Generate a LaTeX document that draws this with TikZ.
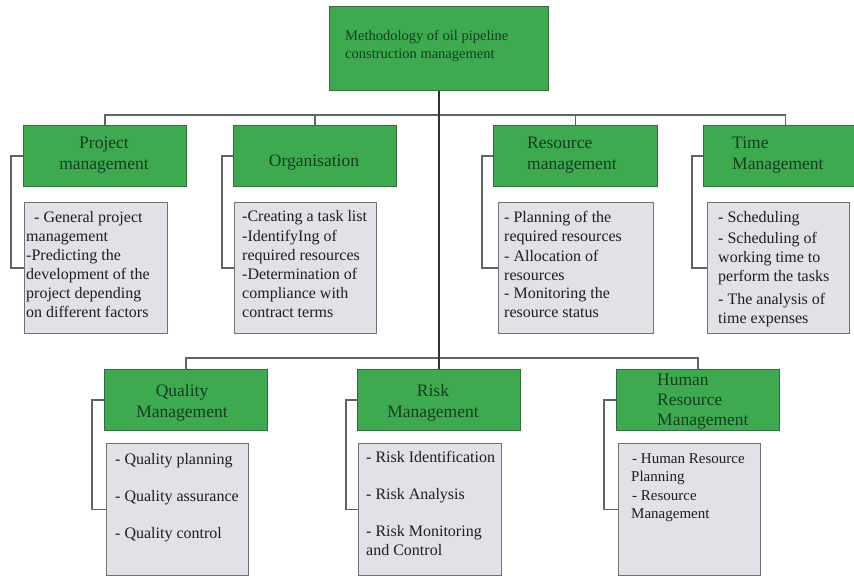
\documentclass[tikz,border=0pt]{standalone}
\usepackage{fontspec}
\setmainfont{Liberation Serif}
\definecolor{ggreen}{RGB}{62,170,80}
\definecolor{gborder}{RGB}{50,110,60}
\definecolor{gtxt}{RGB}{22,60,32}
\definecolor{dfill}{RGB}{224,226,232}
\definecolor{dborder}{RGB}{110,112,115}
\definecolor{dtxt}{RGB}{30,30,30}
\definecolor{lgray}{RGB}{95,100,100}
\definecolor{ldark}{RGB}{45,50,52}
\begin{document}
\begin{tikzpicture}[x=1pt,y=-1pt,
  gbox/.style={draw=gborder, fill=ggreen, line width=1pt, inner sep=0pt, anchor=north west, minimum height=61pt},
  dbox/.style={draw=dborder, fill=dfill, line width=1.2pt, inner sep=0pt, anchor=north west, minimum height=131pt},
  gtext/.style={text=gtxt, font=\fontsize{17.5}{20.5}\selectfont, inner sep=0pt},
  dtext/.style={text=dtxt, font=\fontsize{16}{19}\selectfont, inner sep=0pt, anchor=north west, align=left},
  bus/.style={draw=lgray, line width=1.6pt},
  trunk/.style={draw=ldark, line width=2.6pt},
  brk/.style={draw=lgray, line width=1.3pt}]
\useasboundingbox (0,0) rectangle (854,577);
\fill[white] (0,0) rectangle (854,577);

% root
\node[gbox, minimum width=219pt, minimum height=84pt] (root) at (329,6) {};
\node[text=gtxt, font=\fontsize{14.5}{18}\selectfont, inner sep=0pt, anchor=north west, align=left] (roott) at (345,30) {Methodology of oil pipeline\\construction management};

% top row green boxes
\node[gbox, minimum width=163pt] (pm) at (23,125) {};
\node[gbox, minimum width=163pt] (org) at (233,125) {};
\node[gbox, minimum width=164pt] (rm) at (493,125) {};
\node[gbox, minimum width=164pt] (tm) at (703,125) {};

\node[gtext, align=center] (pmt) at (104,155) {Project\\management};
\node[gtext] (orgt) at (314,163) {Organisation};
\node[gtext, align=left, anchor=west] (rmt) at (527,155) {Resource\\management};
\node[gtext, align=left, anchor=west] (tmt) at (732,155) {Time\\Management};

% top row detail boxes
\node[dbox, minimum width=143pt] (pmd) at (24,202) {};
\node[dbox, minimum width=142pt] (orgd) at (234,202) {};
\node[dbox, minimum width=155pt] (rmd) at (498,202) {};
\node[dbox, minimum width=142pt] (tmd) at (707,202) {};

\node[dtext] (pmdt) at (26,211) {\hspace{8pt}- General project\\management\\-Predicting the\\development of the\\project depending\\on different factors};
\node[dtext] (orgdt) at (242,210) {-Creating a task list\\[1pt]-IdentifyIng of\\required resources\\-Determination of\\compliance with\\contract terms};
\node[dtext] (rmdt) at (504,211) {- Planning of the\\required resources\\[1pt]- Allocation of\\resources\\[-1pt]- Monitoring the\\resource status};
\node[dtext] (tmdt) at (718,211) {- Scheduling\\[2pt]- Scheduling of\\working time to\\perform the tasks\\[4pt]- The analysis of\\time expenses};

% bottom row green boxes
\node[gbox, minimum width=163pt] (qm) at (104,369) {};
\node[gbox, minimum width=163pt] (risk) at (357,369) {};
\node[gbox, minimum width=163pt] (hrm) at (616,369) {};

\node[gtext, align=center] (qmt) at (182,403) {Quality\\Management};
\node[gtext, align=center] (riskt) at (433,403) {Risk\\Management};
\node[gtext, align=left, anchor=west, font=\fontsize{17.5}{20}\selectfont] (hrmt) at (657,402) {Human\\Resource\\Management};

% bottom row detail boxes
\node[dbox, minimum width=142pt, minimum height=132pt] (qmd) at (106,443) {};
\node[dbox, minimum width=143pt, minimum height=132pt] (riskd) at (358,443) {};
\node[dbox, minimum width=142pt, minimum height=132pt] (hrmd) at (618,443) {};

\node[dtext] (qmdt) at (115,453) {- Quality planning\\[18pt]- Quality assurance\\[18pt]- Quality control};
\node[dtext] (riskdt) at (366,451) {- Risk Identification\\[18pt]- Risk Analysis\\[18pt]- Risk Monitoring\\and Control};
\node[dtext, font=\fontsize{15}{18.5}\selectfont] (hrmdt) at (631,453) {\hspace{1pt}- Human Resource\\Planning\\\hspace{1pt}- Resource\\Management};

% connectors
\coordinate (b1) at (0,115);
\coordinate (b2) at (0,358);
\draw[bus] (pm.north) -- (pm.north |- b1) -- (tm.north |- b1) -- (tm.north);
\draw[bus] (org.north) -- (org.north |- b1);
\draw[bus] (rm.north) -- (rm.north |- b1);
\draw[bus] (qm.north) -- (qm.north |- b2) -- (hrm.north |- b2) -- (hrm.north);
\draw[trunk] (root.south) -- (risk.north);

\draw[brk] (pm.west) -- ++(-12,0) |- (pmd.west);
\draw[brk] (org.west) -- ++(-11,0) |- (orgd.west);
\draw[brk] (rm.west) -- ++(-11,0) |- (rmd.west);
\draw[brk] (tm.west) -- ++(-11,0) |- (tmd.west);
\draw[brk] (qm.west) -- ++(-12,0) |- (qmd.west);
\draw[brk] (risk.west) -- ++(-11,0) |- (riskd.west);
\draw[brk] (hrm.west) -- ++(-12,0) |- (hrmd.west);
\end{tikzpicture}
\end{document}
